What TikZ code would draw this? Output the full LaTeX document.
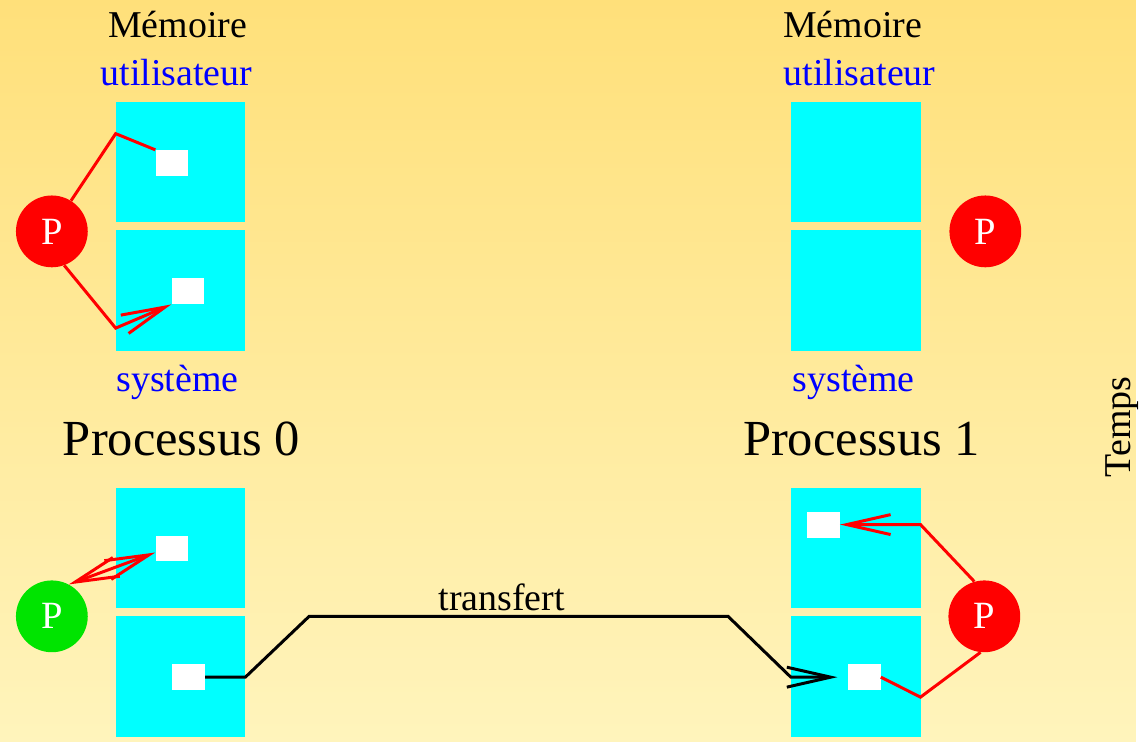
\documentclass[tikz,border=0pt]{standalone}
\usepackage{fontspec}
\setmainfont{Liberation Serif}
\usetikzlibrary{arrows.meta,calc}

\definecolor{memcyan}{RGB}{0,255,255}
\definecolor{procgreen}{RGB}{0,228,0}
\definecolor{bgtop}{RGB}{255,224,122}
\definecolor{bgbot}{RGB}{255,244,188}

\begin{document}
\begin{tikzpicture}[x=0.75pt,y=0.75pt,yscale=-1,
  >={Straight Barb[length=33pt, width=15pt]},
  mem/.style={fill=memcyan, minimum width=97.5pt, minimum height=90.75pt, inner sep=0pt},
  cell/.style={fill=white, minimum width=24.75pt, minimum height=19.5pt, inner sep=0pt},
  proc/.style={circle, fill=red, text=white, minimum size=54pt, inner sep=0pt, font=\fontsize{29}{30}\selectfont},
  lbl/.style={anchor=base, inner sep=0pt, font=\fontsize{28.5}{30}\selectfont},
  big/.style={lbl, font=\fontsize{38}{40}\selectfont},
  ptr/.style={red, line width=2.25pt},
  wire/.style={black, line width=2.25pt}
]
%background
\fill[top color=bgtop, bottom color=bgbot] (0,0) rectangle (1139,744);

%Memory blocks
\node[mem] (u0) at (181,162.5) {};
\node[mem] (s0) at (181,291.5) {};
\node[mem] (u1) at (858,162.5) {};
\node[mem] (s1) at (858,291.5) {};
\node[mem] (u2) at (181,549.5) {};
\node[mem] (s2) at (181,678.5) {};
\node[mem] (u3) at (858,549.5) {};
\node[mem] (s3) at (858,678.5) {};

%Data cells
\node[cell] (c0) at (172.5,163.5) {};
\node[cell] (c1) at (188.5,292) {};
\node[cell] (c2) at (172.5,550) {};
\node[cell] (c3) at (189,679) {};
\node[cell] (c4) at (825.5,526) {};
\node[cell] (c5) at (866.5,679) {};

%Processes
\node[proc] (p0) at (52,232) {P};
\node[proc] (p1) at (988,232) {P};
\node[proc, fill=procgreen] (g0) at (52,618) {P};
\node[proc] (p2) at (987,618) {P};

%Bends
\coordinate (k0) at (116,134);
\coordinate (k1) at (116,329);
\coordinate (k2) at (923,526);
\coordinate (k3) at (923,699);
\coordinate (j0) at (246,679);
\coordinate (j1) at (310,618);
\coordinate (j2) at (730,618);
\coordinate (j3) at (793,679);

%Pointers
\draw[ptr] (p0.58) -- (k0) -- (c0.north west);
\draw[ptr, ->] (p0.-70) -- (k1) -- (c1.south west);
\draw[ptr, <->] (g0.62) -- ($(c2.west)+(0,4)$);
\draw[ptr, ->] (p2.106) -- (k2) -- (c4.east);
\draw[ptr] (p2.-96) -- (k3) -- (c5.east);

%Transfer
\draw[wire, ->, shorten >=7.5pt] (c3.east) -- (j0) -- (j1) -- (j2) -- (j3) -- (c5.west);

% Text Node
\node[lbl] (m0) at (178,38) {Mémoire};
\node[lbl, text=blue] (t0) at (177,86) {utilisateur};
\node[lbl, text=blue] (y0) at (178,393) {système};
\node[big] (n0) at (182,457) {Processus 0};
% Text Node
\node[lbl] (m1) at (855,38) {Mémoire};
\node[lbl, text=blue] (t1) at (862,86) {utilisateur};
\node[lbl, text=blue] (y1) at (856,393) {système};
\node[big] (n1) at (864,457) {Processus 1};
% Text Node
\node[lbl] (tr) at (503,612) {transfert};
\node[lbl, rotate=90] (tm) at (1134,428) {Temps};

\end{tikzpicture}
\end{document}
